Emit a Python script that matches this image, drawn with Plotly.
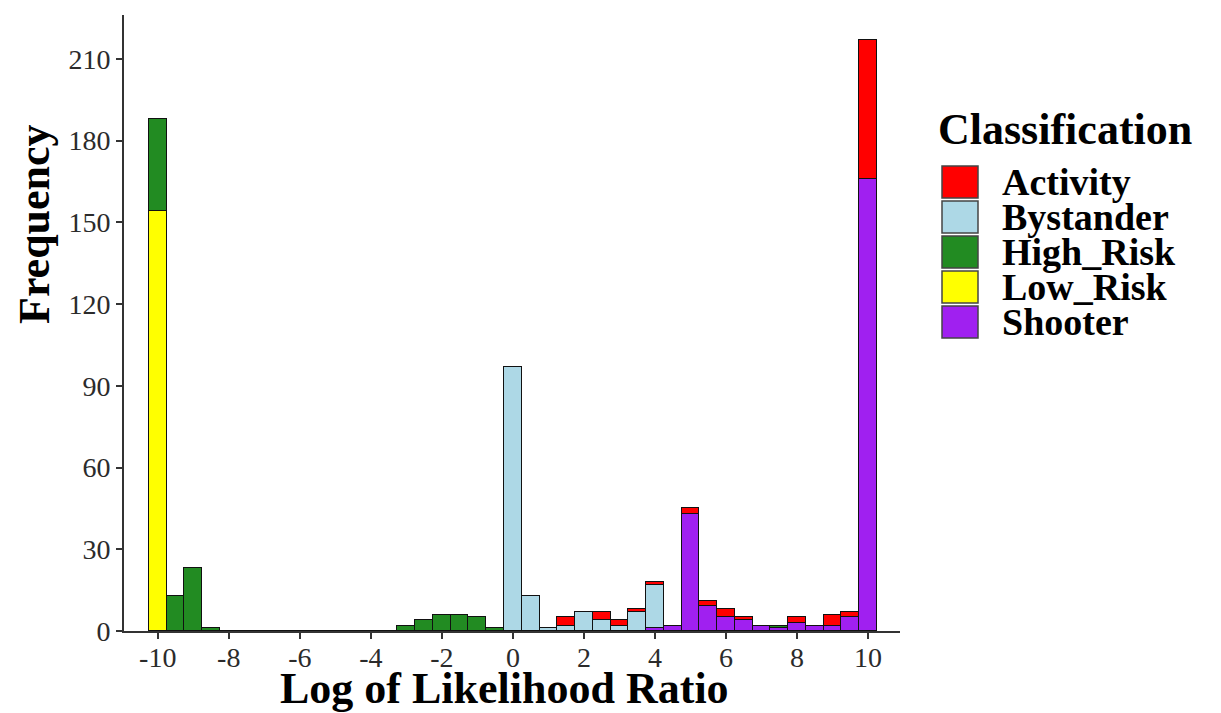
import plotly.graph_objects as go

# Histogram bins (centres, width 0.5) of the log likelihood ratio
bin_centers = [-10.0, -9.5, -9.0, -8.5, -8.0, -7.5, -7.0, -6.5, -6.0, -5.5,
               -5.0, -4.5, -4.0, -3.5, -3.0, -2.5, -2.0, -1.5, -1.0, -0.5,
               0.0, 0.5, 1.0, 1.5, 2.0, 2.5, 3.0, 3.5, 4.0, 4.5,
               5.0, 5.5, 6.0, 6.5, 7.0, 7.5, 8.0, 8.5, 9.0, 9.5,
               10.0]

# Counts per classification in each bin
activity = [0, 0, 0, 0, 0, 0, 0, 0, 0, 0,
            0, 0, 0, 0, 0, 0, 0, 0, 0, 0,
            0, 0, 0, 3, 0, 3, 2, 1, 1, 0,
            2, 2, 3, 1, 0, 0, 2, 0, 4, 2,
            51]
bystander = [0, 0, 0, 0, 0, 0, 0, 0, 0, 0,
             0, 0, 0, 0, 0, 0, 0, 0, 0, 0,
             97, 13, 1, 2, 7, 4, 2, 7, 16, 0,
             0, 0, 0, 0, 0, 0, 0, 0, 0, 0,
             0]
high_risk = [34, 13, 23, 1, 0, 0, 0, 0, 0, 0,
             0, 0, 0, 0, 2, 4, 6, 6, 5, 1,
             0, 0, 0, 0, 0, 0, 0, 0, 0, 0,
             0, 0, 0, 0, 0, 1, 0, 0, 0, 0,
             0]
low_risk = [154, 0, 0, 0, 0, 0, 0, 0, 0, 0,
            0, 0, 0, 0, 0, 0, 0, 0, 0, 0,
            0, 0, 0, 0, 0, 0, 0, 0, 0, 0,
            0, 0, 0, 0, 0, 0, 0, 0, 0, 0,
            0]
shooter = [0, 0, 0, 0, 0, 0, 0, 0, 0, 0,
           0, 0, 0, 0, 0, 0, 0, 0, 0, 0,
           0, 0, 0, 0, 0, 0, 0, 0, 1, 2,
           43, 9, 5, 4, 2, 1, 3, 2, 2, 5,
           166]

class_names = ["Activity", "Bystander", "High_Risk", "Low_Risk", "Shooter"]
class_colors = ["#FF0000", "#ADD8E6", "#228B22", "#FFFF00", "#A020F0"]

x_tick_vals = [-10, -8, -6, -4, -2, 0, 2, 4, 6, 8, 10]
x_tick_text = ["-10", "-8", "-6", "-4", "-2", "0", "2", "4", "6", "8", "10"]
y_tick_vals = [0, 30, 60, 90, 120, 150, 180, 210]

# Stack order: first trace sits at the bottom
series = {
    "Shooter": shooter,
    "Low_Risk": low_risk,
    "High_Risk": high_risk,
    "Bystander": bystander,
    "Activity": activity,
}
color_of = dict(zip(class_names, class_colors))

fig = go.Figure()
for name, counts in series.items():
    fig.add_trace(go.Bar(
        x=bin_centers, y=counts, name=name, width=0.5,
        marker=dict(color=color_of[name], line=dict(color="#111111", width=1.2)),
        showlegend=False,
    ))

W, H = 1221, 713
ML, MR, MT, MB = 124, 321, 15, 82
PW, PH = W - ML - MR, H - MT - MB


def px(x):
    return (x - ML) / PW


def py(y):
    return (H - MB - y) / PH


serif = "Liberation Serif"
tick_font = dict(family=serif, size=28, color="#2b2b2b")

fig.update_layout(
    width=W, height=H,
    margin=dict(l=ML, r=MR, t=MT, b=MB, autoexpand=False),
    paper_bgcolor="white", plot_bgcolor="white",
    barmode="stack", bargap=0,
    xaxis=dict(
        range=[-10.95, 10.9], tickvals=x_tick_vals, ticktext=x_tick_text,
        showline=True, linecolor="#333333", linewidth=2,
        ticks="outside", ticklen=6, tickwidth=1.5, tickcolor="#333333",
        showgrid=False, zeroline=False, tickfont=tick_font,
        ticklabelstandoff=-6,
    ),
    yaxis=dict(
        range=[0, 226.1], tickvals=y_tick_vals,
        showline=True, linecolor="#333333", linewidth=2,
        ticks="outside", ticklen=6, tickwidth=1.5, tickcolor="#333333",
        showgrid=False, zeroline=False, tickfont=tick_font,
    ),
)

title_font = dict(family=serif, size=44, color="black", weight="bold")

annotations = [
    dict(text="Log of Likelihood Ratio", x=px(504), y=py(688),
         xanchor="center", yanchor="middle", font=title_font),
    dict(text="Frequency", x=px(34), y=py(224), textangle=-90,
         xanchor="center", yanchor="middle", font=title_font),
    dict(text="Classification", x=px(936), y=py(129),
         xanchor="left", yanchor="middle", font=title_font),
]

shapes = []
for i, (name, color) in enumerate(zip(class_names, class_colors)):
    top = 166 + i * 35
    shapes.append(dict(
        type="rect", xref="paper", yref="paper",
        x0=px(942), x1=px(978), y0=py(top + 32), y1=py(top),
        fillcolor=color, line=dict(color="#444444", width=1.5),
    ))
    annotations.append(dict(
        text=name, x=px(1000), y=py(top + 16),
        xanchor="left", yanchor="middle",
        font=dict(family=serif, size=38, color="black", weight="bold"),
    ))

for a in annotations:
    a.update(xref="paper", yref="paper", showarrow=False)

fig.update_layout(annotations=annotations, shapes=shapes)

fig.write_html("out.html")
